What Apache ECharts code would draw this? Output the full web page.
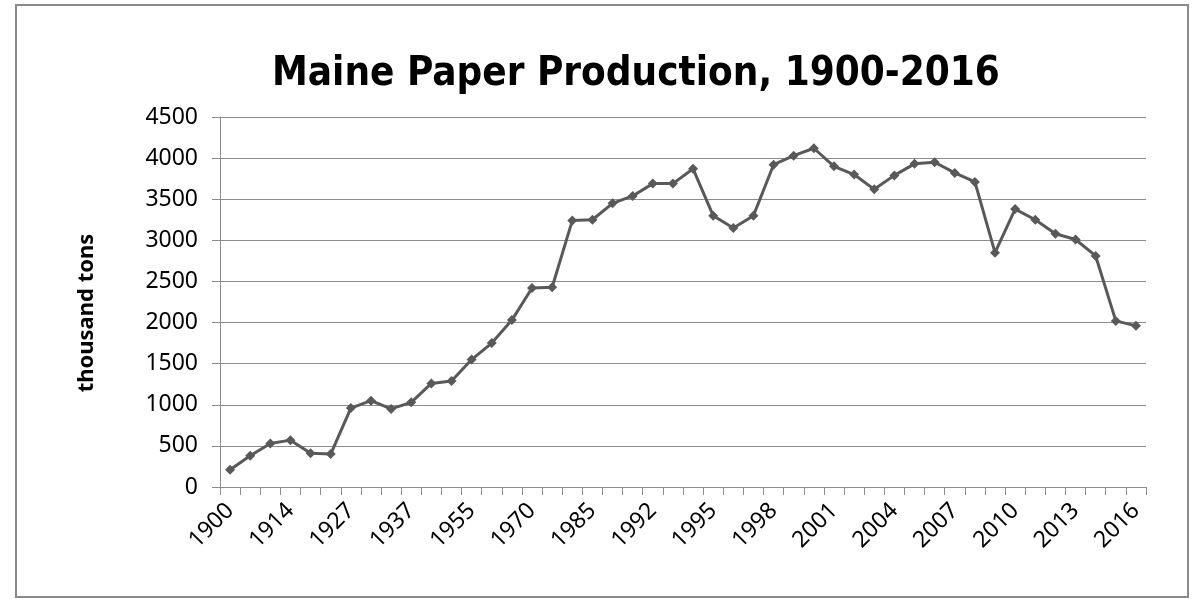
<!DOCTYPE html>
<html>
<head>
<meta charset="utf-8">
<title>Maine Paper Production</title>
<script src="https://cdn.jsdelivr.net/npm/echarts@6/dist/echarts.min.js"></script>
<style>
  html, body { margin: 0; padding: 0; background: #fff; }
  #chart { width: 1196px; height: 599px; }
</style>
</head>
<body>
<div id="chart"></div>
<script>
// 年份（只每隔3个显示标签）
var years = ['1900','1905','1909','1914','1919','1923','1927','1930','1933','1937',
             '1943','1949','1955','1960','1965','1970','1975','1980','1985','1988',
             '1990','1992','1993','1994','1995','1996','1997','1998','1999','2000',
             '2001','2002','2003','2004','2005','2006','2007','2008','2009','2010',
             '2011','2012','2013','2014','2015','2016'];
// 产量 thousand tons
var production = [210, 380, 530, 570, 410, 400, 960, 1050, 950, 1030,
                  1260, 1290, 1550, 1750, 2030, 2420, 2430, 3240, 3250, 3450,
                  3540, 3690, 3690, 3870, 3300, 3150, 3300, 3920, 4030, 4120,
                  3900, 3800, 3620, 3790, 3930, 3950, 3820, 3710, 2850, 3380,
                  3250, 3080, 3010, 2810, 2020, 1960];
var yTicks = [0, 500, 1000, 1500, 2000, 2500, 3000, 3500, 4000, 4500];

var TITLE_FONT = '"Liberation Sans Narrow", "DejaVu Sans Condensed", "Noto Sans", sans-serif';
var FONT = '"Noto Sans", sans-serif';
var AXIS_GRAY = '#8c8c8c';

var chart = echarts.init(document.getElementById('chart'));
chart.setOption({
    backgroundColor: '#fff',
    animation: false,
    title: {
        text: 'Maine Paper Production, 1900-2016',
        left: 267,
        top: 50,
        textStyle: { fontFamily: TITLE_FONT, fontSize: 40, fontWeight: 'bold', color: '#000' }
    },
    graphic: [{
        type: 'rect',
        shape: { x: 16, y: 5, width: 1172, height: 592 },
        style: { fill: null, stroke: '#8a8a8a', lineWidth: 2 },
        silent: true
    }],
    grid: { left: 220, right: 50, top: 117, bottom: 112 },
    xAxis: {
        type: 'category',
        data: years,
        boundaryGap: true,
        axisLine: { lineStyle: { color: AXIS_GRAY, width: 1 } },
        axisTick: { show: true, interval: 0, length: 8, lineStyle: { color: AXIS_GRAY } },
        axisLabel: {
            interval: 2,
            rotate: 45,
            margin: 20,
            fontFamily: FONT,
            fontSize: 23,
            color: '#000'
        }
    },
    yAxis: {
        type: 'value',
        min: yTicks[0],
        max: yTicks[yTicks.length - 1],
        interval: 500,
        name: 'thousand tons',
        nameLocation: 'middle',
        nameGap: 122,
        nameTextStyle: { fontFamily: FONT, fontSize: 22, fontWeight: 'bold', color: '#000', padding: [0, 22, 0, 0] },
        axisLine: { show: true, lineStyle: { color: AXIS_GRAY, width: 1 } },
        axisTick: { show: true, length: 8, lineStyle: { color: AXIS_GRAY } },
        axisLabel: {
            margin: 22,
            fontFamily: FONT,
            fontSize: 23,
            color: '#000',
            formatter: function (v) { return String(v); }
        },
        splitLine: { show: true, lineStyle: { color: AXIS_GRAY, width: 1 } }
    },
    series: [{
        type: 'line',
        data: production,
        symbol: 'diamond',
        symbolSize: 10,
        lineStyle: { color: '#595959', width: 3 },
        itemStyle: { color: '#595959' }
    }]
});
</script>
</body>
</html>
